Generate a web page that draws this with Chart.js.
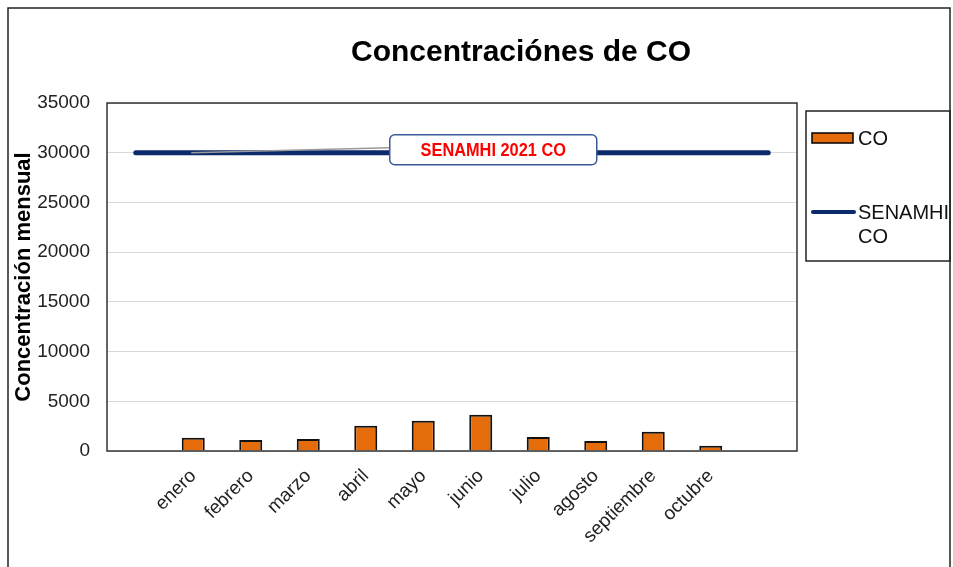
<!DOCTYPE html>
<html>
<head>
<meta charset="utf-8">
<script src="https://cdn.jsdelivr.net/npm/chart.js@4/dist/chart.umd.min.js"></script>
<style>
  html, body { margin: 0; padding: 0; background: #fff; }
  #wrap { width: 953px; height: 567px; position: relative; }
</style>
</head>
<body>
<div id="wrap"><canvas id="chart" width="953" height="567"></canvas></div>
<script>
// datos mensuales
const meses = ['', 'enero', 'febrero', 'marzo', 'abril', 'mayo', 'junio', 'julio', 'agosto', 'septiembre', 'octubre', ''];
const valoresCO = [null, 1340, 1110, 1210, 2550, 3050, 3650, 1410, 1010, 1940, 530, null];
const limiteSenamhi = [30000, 30000, 30000, 30000, 30000, 30000, 30000, 30000, 30000, 30000, 30000, 30000];
const ticksY = [0, 5000, 10000, 15000, 20000, 25000, 30000, 35000];

const naranja = '#E46C0A';
const azul = '#0B2A6A';

// dibuja marco, titulo, cuadro de plot, etiqueta y leyenda
const extras = {
    id: 'extras',
    afterDraw(chart) {
        const ctx = chart.ctx;
        const area = chart.chartArea;
        const x = chart.scales.x;
        const y = chart.scales.y;
        ctx.save();

        // marco exterior
        ctx.strokeStyle = '#222';
        ctx.lineWidth = 1.5;
        ctx.strokeRect(8, 8, 942, 620);

        // titulo
        ctx.fillStyle = '#000';
        ctx.font = 'bold 30px "Liberation Sans", Arial, sans-serif';
        ctx.textAlign = 'center';
        ctx.textBaseline = 'middle';
        ctx.fillText('Concentraciónes de CO', 521, 53);

        // borde del area de grafico
        ctx.strokeStyle = '#333';
        ctx.lineWidth = 1.5;
        ctx.strokeRect(area.left, area.top, area.right - area.left, area.bottom - area.top);

        // etiqueta SENAMHI con linea guia
        const yLim = y.getPixelForValue(limiteSenamhi[0]);
        const bx = x.getPixelForValue(6) - 91;
        const bw = 207, bh = 30;
        const by = yLim - 18;
        ctx.strokeStyle = '#9a9a9a';
        ctx.lineWidth = 1.5;
        ctx.beginPath();
        ctx.moveTo(x.getPixelForValue(1) - 2, yLim);
        ctx.lineTo(bx, yLim - 5);
        ctx.stroke();
        ctx.fillStyle = '#fff';
        ctx.strokeStyle = '#3a5a96';
        ctx.lineWidth = 1.5;
        ctx.beginPath();
        ctx.roundRect(bx, by, bw, bh, 5);
        ctx.fill();
        ctx.stroke();
        // texto condensado
        ctx.save();
        ctx.translate(bx + bw / 2, by + bh / 2 + 1);
        ctx.scale(0.86, 1);
        ctx.fillStyle = '#FF0000';
        ctx.font = 'bold 19px "Liberation Sans", Arial, sans-serif';
        ctx.fillText('SENAMHI 2021 CO', 0, 0);
        ctx.restore();

        // leyenda
        ctx.strokeStyle = '#222';
        ctx.lineWidth = 1.5;
        ctx.strokeRect(806, 111, 144, 150);
        ctx.font = '20px "Liberation Sans", Arial, sans-serif';
        ctx.textAlign = 'left';
        ctx.fillStyle = naranja;
        ctx.fillRect(812, 133, 41, 10);
        ctx.strokeStyle = '#000';
        ctx.lineWidth = 1.5;
        ctx.strokeRect(812, 133, 41, 10);
        ctx.fillStyle = '#111';
        ctx.fillText(chart.data.datasets[0].label, 858, 139);
        ctx.strokeStyle = azul;
        ctx.lineWidth = 4;
        ctx.lineCap = 'round';
        ctx.beginPath();
        ctx.moveTo(813, 212);
        ctx.lineTo(854, 212);
        ctx.stroke();
        ctx.fillText('SENAMHI', 858, 213);
        ctx.fillText('CO', 858, 237);

        ctx.restore();
    }
};

new Chart(document.getElementById('chart'), {
    data: {
        labels: meses,
        datasets: [
            {
                type: 'bar',
                label: 'CO',
                data: valoresCO,
                backgroundColor: naranja,
                borderColor: '#111',
                borderWidth: 2,
                barPercentage: 0.4,
                categoryPercentage: 1,
                order: 2
            },
            {
                type: 'line',
                label: 'SENAMHI CO',
                data: limiteSenamhi,
                borderColor: azul,
                borderWidth: 5,
                borderCapStyle: 'round',
                pointRadius: 0,
                fill: false,
                order: 1
            }
        ]
    },
    options: {
        responsive: false,
        animation: false,
        layout: { padding: { top: 103, right: 156, bottom: 0, left: 0 } },
        plugins: {
            legend: { display: false },
            title: { display: false },
            tooltip: { enabled: false }
        },
        scales: {
            x: {
                grid: { display: false },
                border: { display: false },
                ticks: {
                    autoSkip: false,
                    minRotation: 45,
                    maxRotation: 45,
                    padding: 6,
                    color: '#222',
                    font: { family: '"Liberation Sans", Arial, sans-serif', size: 19 }
                },
                afterFit: (s) => { s.height = 116; }
            },
            y: {
                min: 0,
                max: 35000,
                afterBuildTicks: (s) => { s.ticks = ticksY.map(v => ({ value: v })); },
                grid: { color: '#d9d9d9', lineWidth: 1, drawTicks: false },
                border: { display: false },
                ticks: {
                    padding: 17,
                    color: '#222',
                    font: { family: '"Liberation Sans", Arial, sans-serif', size: 19 },
                    callback: (v) => String(v)
                },
                title: {
                    display: true,
                    text: 'Concentración mensual',
                    color: '#000',
                    padding: { top: 11, bottom: 0 },
                    font: { family: '"Liberation Sans", Arial, sans-serif', size: 22, weight: 'bold' }
                },
                afterFit: (s) => { s.width = 107; }
            }
        }
    },
    plugins: [extras]
});
</script>
</body>
</html>
